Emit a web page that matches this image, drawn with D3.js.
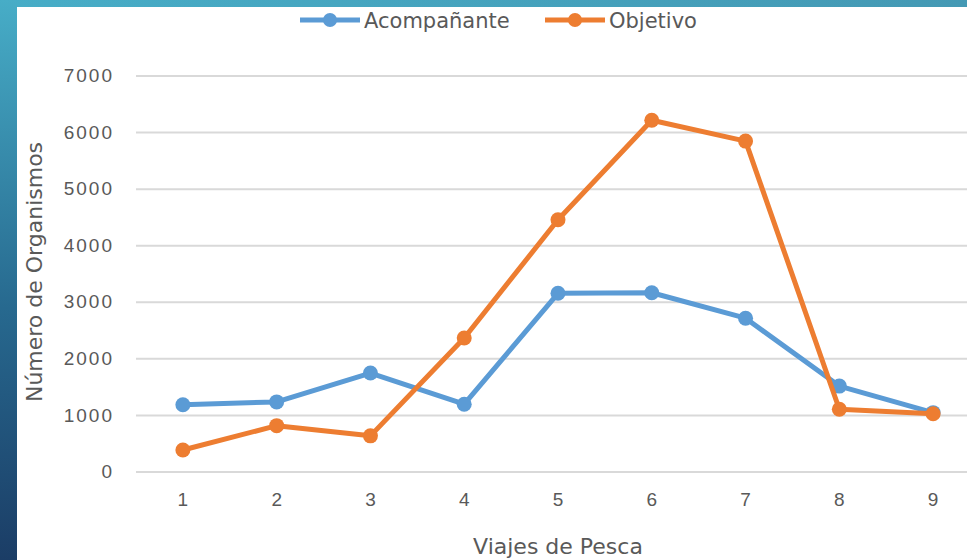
<!DOCTYPE html>
<html>
<head>
<meta charset="utf-8">
<script src="https://cdn.jsdelivr.net/npm/d3@7"></script>
<style>
  html, body { margin: 0; padding: 0; background: #fff; }
  svg { display: block; font-family: "DejaVu Sans", sans-serif; }
</style>
</head>
<body>
<svg width="967" height="560"></svg>
<script>
var viajes = [1, 2, 3, 4, 5, 6, 7, 8, 9];
var acompanante = [1180, 1230, 1740, 1190, 3150, 3160, 2710, 1510, 1040];
var objetivo = [380, 810, 630, 2360, 4450, 6210, 5840, 1100, 1020];
var yTicks = [0, 1000, 2000, 3000, 4000, 5000, 6000, 7000];

var series = [
    { name: 'Acompañante', values: acompanante, color: '#5b9bd5' },
    { name: 'Objetivo', values: objetivo, color: '#ed7d31' }
];

var svg = d3.select('svg');
var textColor = '#595959';

// frame: gradient bands at left and top
var defs = svg.append('defs');
var gLeft = defs.append('linearGradient').attr('id', 'gLeft')
    .attr('x1', 0).attr('y1', 0).attr('x2', 0).attr('y2', 1);
gLeft.append('stop').attr('offset', '0%').attr('stop-color', '#47adc7');
gLeft.append('stop').attr('offset', '55%').attr('stop-color', '#27698f');
gLeft.append('stop').attr('offset', '100%').attr('stop-color', '#1b3d66');
var gTop = defs.append('linearGradient').attr('id', 'gTop')
    .attr('x1', 0).attr('y1', 0).attr('x2', 1).attr('y2', 0);
gTop.append('stop').attr('offset', '0%').attr('stop-color', '#47adc7');
gTop.append('stop').attr('offset', '100%').attr('stop-color', '#4499b4');

svg.append('rect').attr('x', 0).attr('y', 0).attr('width', 967).attr('height', 7)
    .attr('fill', 'url(#gTop)');
svg.append('rect').attr('x', 0).attr('y', 0).attr('width', 17).attr('height', 560)
    .attr('fill', 'url(#gLeft)');

var x = d3.scaleBand()
    .domain(viajes)
    .range([136, 980]);

var y = d3.scaleLinear()
    .domain([0, 7000])
    .range([471.5, 75.5]);

// gridlines
svg.append('g')
    .attr('transform', 'translate(136,0)')
    .call(d3.axisLeft(y).tickValues(yTicks).tickSize(-850).tickFormat(''))
    .call(function (g) { g.select('.domain').remove(); })
    .selectAll('line')
    .attr('stroke', '#d9d9d9')
    .attr('stroke-width', 2);

// y tick labels
svg.append('g')
    .attr('transform', 'translate(114,0)')
    .call(d3.axisLeft(y).tickValues(yTicks).tickSize(0).tickPadding(0).tickFormat(d3.format('d')))
    .call(function (g) { g.select('.domain').remove(); })
    .selectAll('text')
    .attr('fill', textColor)
    .style('font-size', '19px')
    .style('letter-spacing', '2px');

// x tick labels
svg.append('g')
    .attr('transform', 'translate(0,492)')
    .call(d3.axisBottom(x).tickSize(0).tickPadding(0))
    .call(function (g) { g.select('.domain').remove(); })
    .selectAll('text')
    .attr('fill', textColor)
    .style('font-size', '19px');

// axis titles
svg.append('text')
    .attr('x', 558)
    .attr('y', 554)
    .attr('text-anchor', 'middle')
    .attr('fill', textColor)
    .style('font-size', '22px')
    .text('Viajes de Pesca');

svg.append('text')
    .attr('transform', 'translate(42,272) rotate(-90)')
    .attr('text-anchor', 'middle')
    .attr('fill', textColor)
    .style('font-size', '22px')
    .text('Número de Organismos');

// lines and markers
var line = d3.line()
    .x(function (d, i) { return x(viajes[i]) + x.bandwidth() / 2; })
    .y(function (d) { return y(d); });

series.forEach(function (s) {
    var g = svg.append('g');
    g.append('path')
        .attr('d', line(s.values))
        .attr('fill', 'none')
        .attr('stroke', s.color)
        .attr('stroke-width', 5)
        .attr('stroke-linejoin', 'round');
    g.selectAll('circle')
        .data(s.values)
        .enter().append('circle')
        .attr('cx', function (d, i) { return x(viajes[i]) + x.bandwidth() / 2; })
        .attr('cy', function (d) { return y(d); })
        .attr('r', 7.5)
        .attr('fill', s.color);
});

// legend
var legendX = [300, 545];
var legend = svg.selectAll('.legend')
    .data(series)
    .enter().append('g')
    .attr('class', 'legend')
    .attr('transform', function (d, i) { return 'translate(' + legendX[i] + ',20)'; });

legend.append('line')
    .attr('x1', 0).attr('x2', 60)
    .attr('y1', 0).attr('y2', 0)
    .attr('stroke', function (d) { return d.color; })
    .attr('stroke-width', 5);

legend.append('circle')
    .attr('cx', 30).attr('cy', 0).attr('r', 7)
    .attr('fill', function (d) { return d.color; });

legend.append('text')
    .attr('x', 64)
    .attr('y', 0)
    .attr('dy', '.36em')
    .attr('fill', textColor)
    .style('font-size', '21px')
    .text(function (d) { return d.name; });
</script>
</body>
</html>
